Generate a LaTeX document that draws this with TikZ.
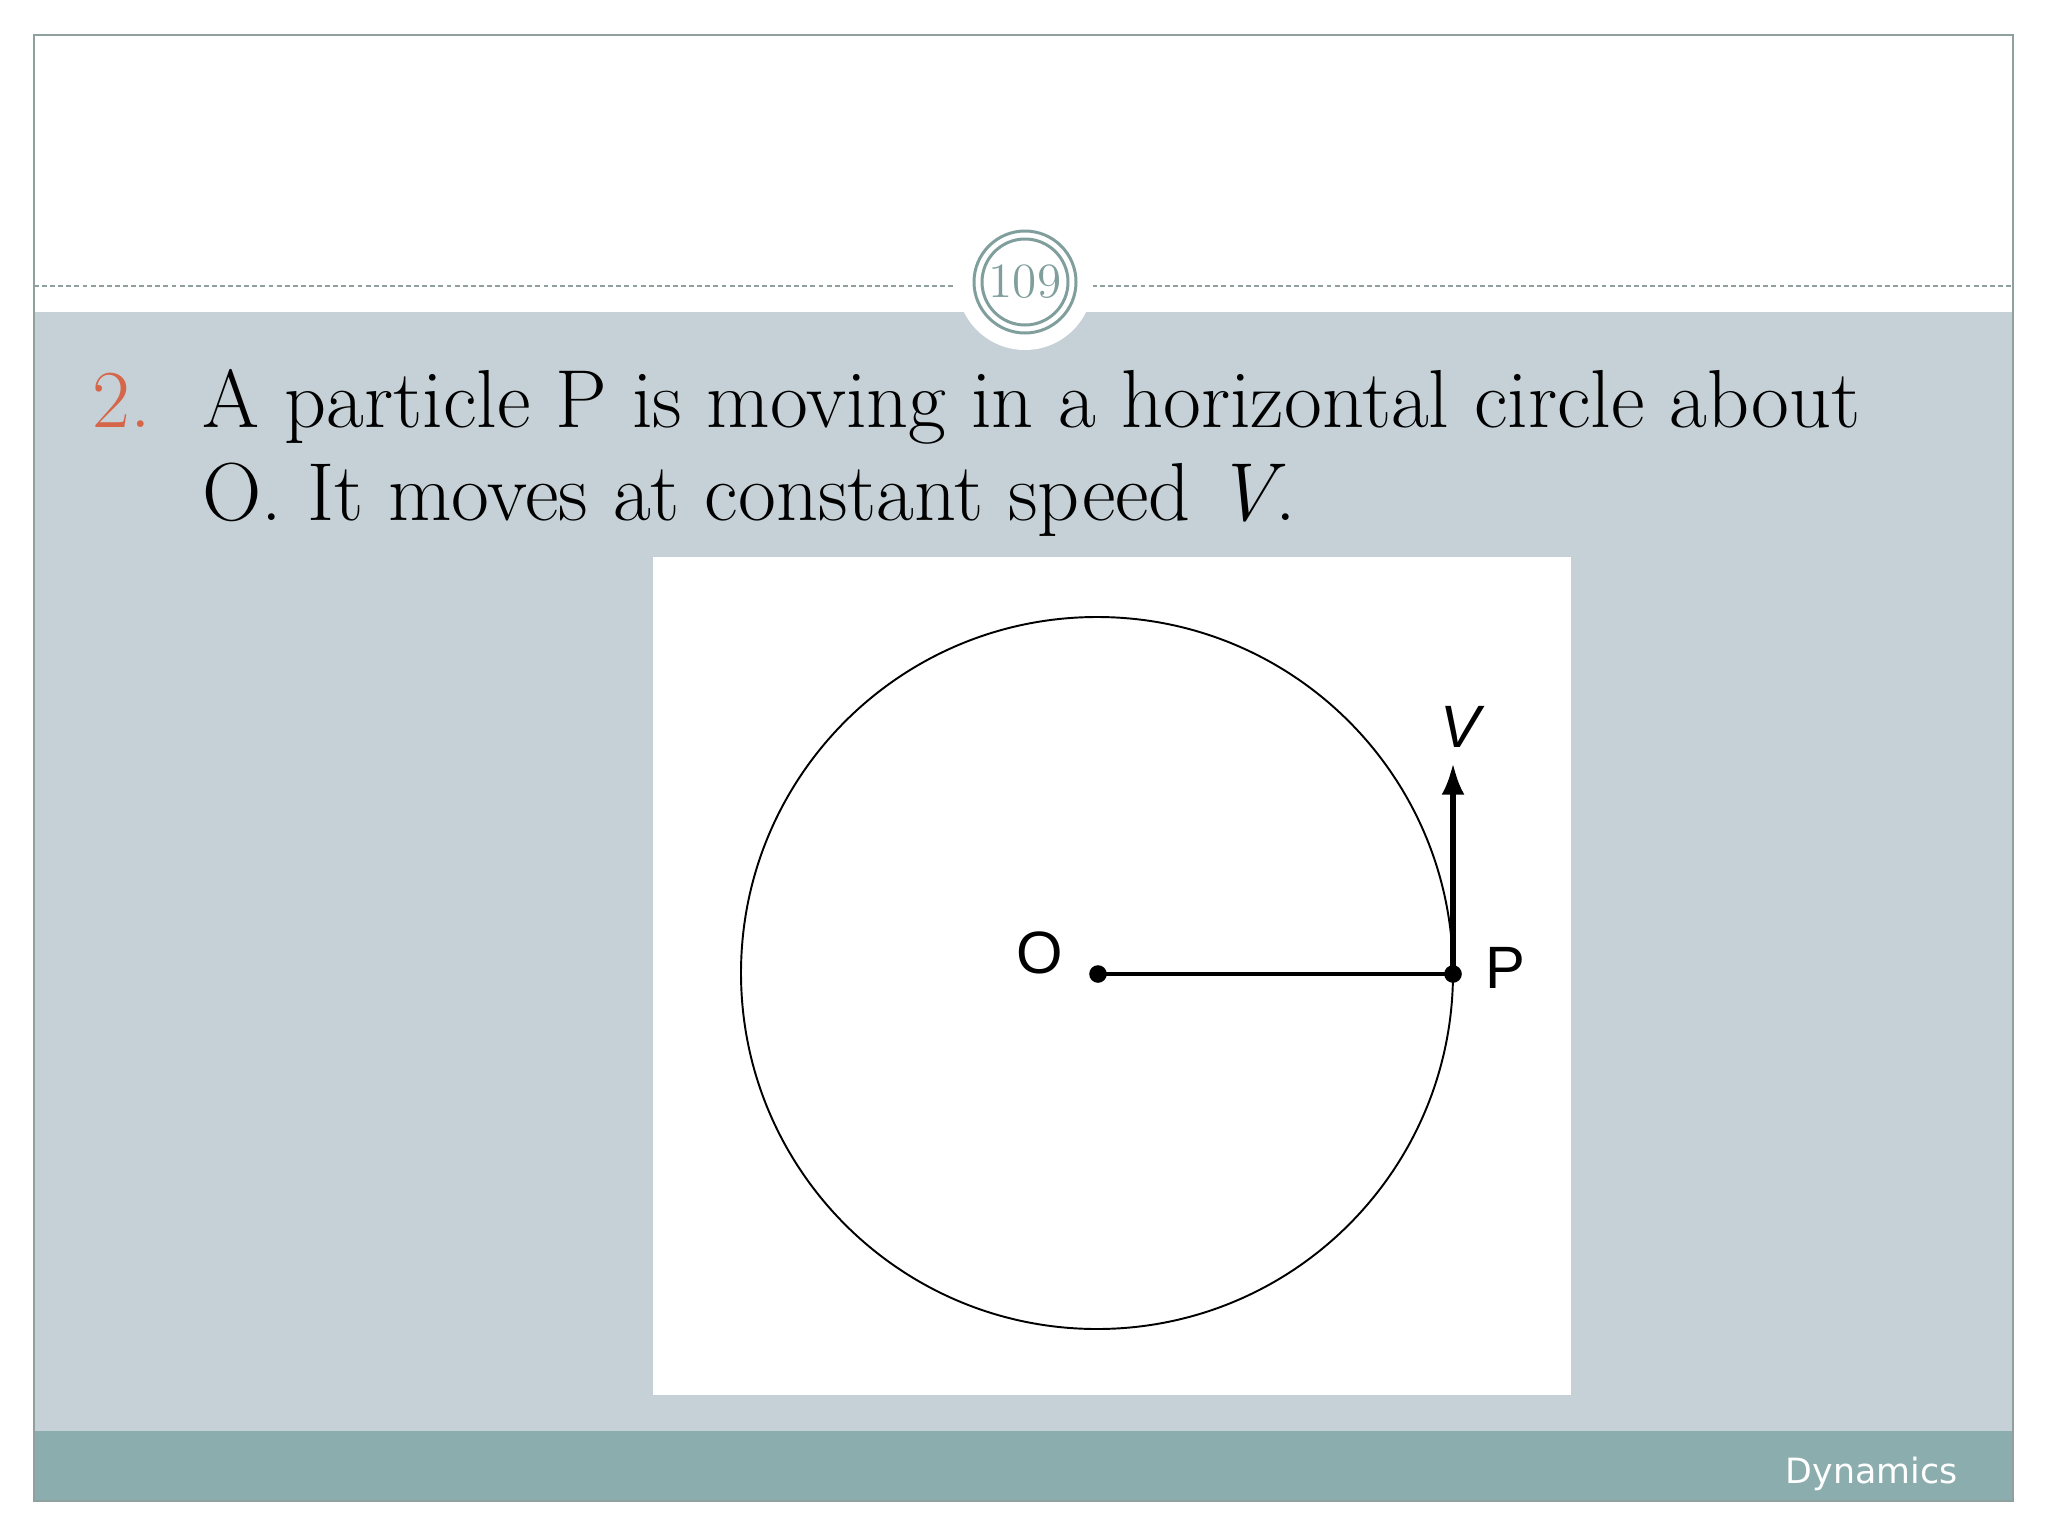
\documentclass[tikz,border=0pt]{standalone}
\usepackage{fontspec}
\newfontfamily\footfont{DejaVu Sans}
\newfontfamily\labelfont{Liberation Sans}
\usetikzlibrary{arrows.meta}
\definecolor{bandgrey}{HTML}{C5D1D6}
\definecolor{footteal}{HTML}{8BADAE}
\definecolor{framegrey}{HTML}{8FA09F}
\definecolor{ringteal}{HTML}{7F9E9C}
\definecolor{numorange}{HTML}{D6664A}
\tikzset{
    dot/.style = {circle, fill = black, inner sep = 0pt, minimum size = 5pt},
    lbl/.style = {font = \labelfont\fontsize{17}{20}\selectfont, inner sep = 0pt}
}
\begin{document}
\begin{tikzpicture}[x = 0.01cm, y = -0.01cm]
        \useasboundingbox (0,0) rectangle (2048,1536);
        \fill[white] (0,0) rectangle (2048,1536);
        \fill[bandgrey] (34,312) rectangle (2013,1431);
        \fill[footteal] (34,1431) rectangle (2013,1501);
        \draw[framegrey, line width = 0.6pt] (34,35) rectangle (2013,1501);
        \begin{scope}[framegrey, line width = 0.55pt, dash pattern = on 1.4pt off 0.9pt]
            \draw (34,286) -- (955,286);
            \draw (1092,286) -- (2013,286);
        \end{scope}
        \fill[white] (1025,282) circle (68);
        \draw[ringteal, line width = 0.85pt] (1025,282) circle (51);
        \draw[ringteal, line width = 0.85pt] (1025,282) circle (43);
        \node[ringteal, font = \fontsize{14}{16}\selectfont] (pagenum) at (1025,282) {109};
        \begin{scope}[every node/.append style = {anchor = base west, inner sep = 0pt, font = \fontsize{23.4}{28}\selectfont}]
            \node[numorange] (item) at (92,427) {\oldstylenums{2}.};
            \node (line1) at (202,427) {A particle P is moving in a horizontal circle about};
            \node (line2) at (202,520) {O. It moves at constant speed \textit{V}.};
        \end{scope}
        \fill[white] (653,557) rectangle (1571,1395);
        \draw[line width = 0.55pt] (1097,973) circle (356);
        \node[dot] (O) at (1098,974) {};
        \node[dot] (P) at (1453,974) {};
        \coordinate (Vtip) at (1453,763);
        \draw[line width = 1pt] (O.center) -- (P.center);
        \draw[line width = 1.5pt, -{Latex[length = 9pt, width = 6.5pt]}] (P.center) -- (Vtip);
        \node[lbl] (Olbl) at (1040,953) {O};
        \node[lbl] (Plbl) at (1505,968) {P};
        \node[lbl, font = \labelfont\itshape\fontsize{17}{20}\selectfont] (Vlbl) at (1460,727) {V};
        \node[white, anchor = base east, inner sep = 0pt, font = \footfont\fontsize{9.9}{12}\selectfont] (foot) at (1958,1483) {Dynamics};
    \end{tikzpicture}
\end{document}
